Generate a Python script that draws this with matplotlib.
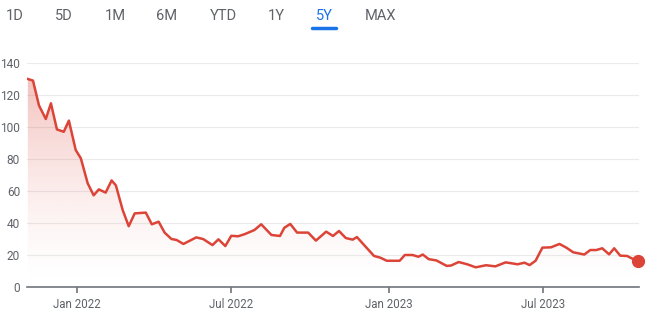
import matplotlib
matplotlib.use("Agg")
import matplotlib.pyplot as plt
import matplotlib.dates as mdates
import numpy as np
import pandas as pd
from matplotlib.patches import Polygon

dates = ["2021-11-05", "2021-11-11", "2021-11-18", "2021-11-26", "2021-12-02", "2021-12-09",
         "2021-12-17", "2021-12-23", "2021-12-31", "2022-01-06", "2022-01-14", "2022-01-21",
         "2022-01-27", "2022-02-04", "2022-02-11", "2022-02-16", "2022-02-24", "2022-03-03",
         "2022-03-10", "2022-03-23", "2022-03-30", "2022-04-07", "2022-04-14", "2022-04-22",
         "2022-04-28", "2022-05-06", "2022-05-13", "2022-05-21", "2022-05-29", "2022-06-09",
         "2022-06-16", "2022-06-24", "2022-07-01", "2022-07-09", "2022-07-17", "2022-07-28",
         "2022-08-05", "2022-08-17", "2022-08-27", "2022-09-01", "2022-09-08", "2022-09-16",
         "2022-09-29", "2022-10-08", "2022-10-20", "2022-10-28", "2022-11-04", "2022-11-12",
         "2022-11-20", "2022-11-25", "2022-12-06", "2022-12-15", "2022-12-22", "2022-12-30",
         "2023-01-14", "2023-01-20", "2023-01-29", "2023-02-05", "2023-02-10", "2023-02-17",
         "2023-02-26", "2023-03-10", "2023-03-15", "2023-03-24", "2023-04-03", "2023-04-13",
         "2023-04-25", "2023-05-06", "2023-05-18", "2023-06-01", "2023-06-09", "2023-06-15",
         "2023-06-22", "2023-06-30", "2023-07-10", "2023-07-20", "2023-07-28", "2023-08-05",
         "2023-08-18", "2023-08-25", "2023-09-01", "2023-09-08", "2023-09-16", "2023-09-22",
         "2023-09-29", "2023-10-07", "2023-10-14", "2023-10-20"]
prices = [130, 129, 113.5, 105, 114.8, 98.5,
          97, 104, 85.6, 80.4, 64.8, 57.3,
          61, 59, 66.6, 63.5, 48, 38,
          46, 46.5, 39.2, 40.8, 34, 30,
          29.4, 26.9, 28.8, 31, 30, 26.2,
          29.8, 25.6, 32, 31.7, 33.1, 35.6,
          39.2, 32.5, 31.9, 37, 39.4, 34,
          34, 29, 34.6, 31.9, 35, 30.6,
          29.6, 31.2, 24.7, 19.4, 18.4, 16.4,
          16.4, 20, 20, 18.9, 20.3, 17.4,
          16.6, 13.2, 13.4, 15.6, 14.2, 12.3,
          13.6, 12.9, 15.4, 14.2, 15.2, 13.7,
          16.4, 24.6, 24.8, 26.9, 24.6, 21.7,
          20.3, 23.1, 23.1, 24.2, 20.4, 24.2,
          19.6, 19.4, 17.5, 16]
yticks = [0, 20, 40, 60, 80, 100, 120, 140]
xtick_dates = ["2022-01-01", "2022-07-01", "2023-01-01", "2023-07-01"]
xtick_labels = ["Jan 2022", "Jul 2022", "Jan 2023", "Jul 2023"]
ranges = ["1D", "5D", "1M", "6M", "YTD", "1Y", "5Y", "MAX"]
active_range = "5Y"

plt.rcParams['font.family'] = ['Roboto', 'DejaVu Sans']

W, H = 668, 315
fig = plt.figure(figsize=(W / 100, H / 100), dpi=100)
ax = fig.add_axes([27 / W, (H - 287) / H, 612 / W, (287 - 63) / H])

x = mdates.date2num(pd.to_datetime(dates))
y = np.array(prices)
red = "#db4437"

xmin = mdates.date2num(pd.Timestamp("2021-11-04"))
xmax = mdates.date2num(pd.Timestamp("2023-10-21"))

# gradient fill under the line
grad = np.zeros((256, 2, 4))
vals = np.linspace(0, 140, 256)
grad[:, :, 0] = 219 / 255
grad[:, :, 1] = 68 / 255
grad[:, :, 2] = 55 / 255
grad[:, :, 3] = (0.32 * np.clip(vals / 130, 0, 1) ** 1.5)[:, None]
im = ax.imshow(grad, extent=[xmin, xmax, 0, 140], origin="lower", aspect="auto", zorder=1)
poly = Polygon(np.column_stack([np.r_[x[0], x, x[-1]], np.r_[0, y, 0]]), closed=True,
               facecolor="none", edgecolor="none")
ax.add_patch(poly)
im.set_clip_path(poly)

ax.plot(x, y, color=red, lw=1.8, solid_joinstyle="round", zorder=3)
ax.plot([x[-1]], [y[-1]], "o", color=red, ms=8.5, zorder=4, clip_on=False)

ax.set_xlim(xmin, xmax)
ax.set_ylim(0, 140)
ax.set_yticks(yticks)
ax.set_yticklabels([str(v) for v in yticks])
ax.set_xticks(mdates.date2num(pd.to_datetime(xtick_dates)))
ax.set_xticklabels(xtick_labels)
ax.grid(axis="y", color="#ebebeb", lw=0.8)
ax.set_axisbelow(True)
for s in ["top", "right", "left"]:
    ax.spines[s].set_visible(False)
ax.spines["bottom"].set_color("#70757a")
ax.spines["bottom"].set_linewidth(1.2)
ax.tick_params(axis="y", length=0, pad=5, labelsize=8.6, labelcolor="#5f6368")
ax.tick_params(axis="x", length=4, width=1.2, color="#70757a", pad=4,
               labelsize=8.3, labelcolor="#5f6368")

# range selector
centers = [15, 64, 115.5, 167, 223, 276, 324, 380.5]
for lab, cx in zip(ranges, centers):
    col = "#1a73e8" if lab == active_range else "#5f6368"
    fig.text(cx / W, 1 - 16 / H, lab, ha="center", va="center", fontsize=10.5,
             color=col)
    if lab == active_range:
        fig.add_artist(plt.Line2D([312 / W, 336 / W], [1 - 28 / H, 1 - 28 / H],
                                  color="#1a73e8", lw=2.5, solid_capstyle="round"))

fig.savefig("out.png", dpi=100)
